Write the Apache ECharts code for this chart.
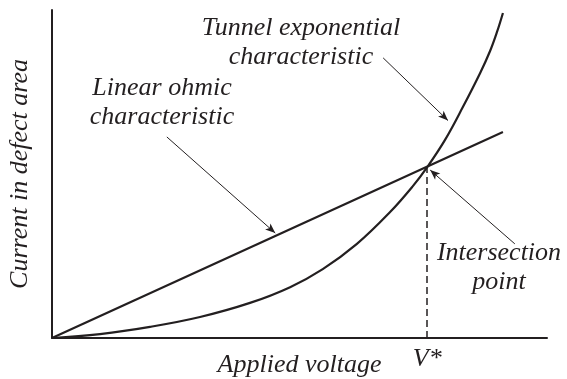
<!DOCTYPE html>
<html>
<head>
<meta charset="utf-8">
<script src="https://cdn.jsdelivr.net/npm/echarts@6/dist/echarts.min.js"></script>
<style>
html, body { margin: 0; padding: 0; background: #fff; }
#chart { width: 567px; height: 379px; }
</style>
</head>
<body>
<div id="chart"></div>
<script>
// linear ohmic characteristic (straight line from origin)
var ohmicX = [0, 9.11];
var ohmicY = [0, 6.28];
// tunnel exponential characteristic
var tunnelX = [0, 0.97, 1.98, 2.99, 4.00, 4.81, 5.47, 6.16, 6.83, 7.29, 7.58, 7.94, 8.30, 8.65, 8.85, 8.99, 9.11];
var tunnelY = [0, 0.12, 0.34, 0.64, 1.07, 1.55, 2.10, 2.87, 3.84, 4.63, 5.21, 6.04, 7.04, 8.08, 8.75, 9.33, 9.91];
// intersection point
var vStar = 7.58;
var iStar = 5.21;

var ink = '#231f20';
var serif = '"Liberation Serif", "DejaVu Serif", serif';

function pairs(xs, ys) {
    return xs.map(function (x, i) { return [x, ys[i]]; });
}

function arrow(from, to) {
    return [{ coord: from }, { coord: to }];
}

function chart01(id) {
    var myChart = echarts.init(document.getElementById(id));
    var textStyle = {
        fontFamily: serif,
        fontStyle: 'italic',
        fontSize: 26,
        color: ink
    };
    var option = {
        animation: false,
        grid: {
            left: 52,
            right: 20,
            top: 10,
            bottom: 41,
            outerBoundsMode: 'none'
        },
        xAxis: {
            type: 'value',
            min: 0,
            max: 10,
            name: 'Applied voltage',
            nameLocation: 'middle',
            nameGap: 14,
            nameTextStyle: textStyle,
            axisLine: { show: true, lineStyle: { color: ink, width: 2 } },
            axisTick: { show: false },
            axisLabel: { show: false },
            splitLine: { show: false }
        },
        yAxis: {
            type: 'value',
            min: 0,
            max: 10,
            name: 'Current in defect area',
            nameLocation: 'middle',
            nameGap: 19,
            nameTextStyle: textStyle,
            axisLine: { show: true, lineStyle: { color: ink, width: 2 } },
            axisTick: { show: false },
            axisLabel: { show: false },
            splitLine: { show: false }
        },
        series: [
            {
                name: 'Linear ohmic characteristic',
                type: 'line',
                showSymbol: false,
                silent: true,
                lineStyle: { color: ink, width: 2.2 },
                data: pairs(ohmicX, ohmicY),
                markLine: {
                    silent: true,
                    symbol: ['none', 'arrow'],
                    symbolSize: [6, 10],
                    label: { show: false },
                    lineStyle: { color: ink, width: 1, type: 'solid' },
                    data: [
                        arrow([6.69, 8.54], [8.0, 6.63]),
                        arrow([2.32, 6.13], [4.51, 3.20]),
                        arrow([9.35, 2.87], [7.64, 5.12])
                    ]
                }
            },
            {
                name: 'Tunnel exponential characteristic',
                type: 'line',
                showSymbol: false,
                silent: true,
                smooth: 0.4,
                lineStyle: { color: ink, width: 2.2 },
                data: pairs(tunnelX, tunnelY),
                markLine: {
                    silent: true,
                    symbol: ['none', 'none'],
                    lineStyle: { color: ink, width: 1.5, type: [7, 4] },
                    label: {
                        show: true,
                        position: 'start',
                        distance: 8,
                        formatter: 'V*',
                        fontFamily: serif,
                        fontStyle: 'italic',
                        fontSize: 26,
                        color: ink
                    },
                    data: [arrow([vStar, 0], [vStar, iStar])]
                }
            }
        ],
        graphic: [
            {
                type: 'text', x: 301, y: 43,
                style: { text: 'Tunnel exponential\ncharacteristic', fill: ink, font: 'italic 26px ' + serif, align: 'center', verticalAlign: 'middle', lineHeight: 29 }
            },
            {
                type: 'text', x: 162, y: 103,
                style: { text: 'Linear ohmic\ncharacteristic', fill: ink, font: 'italic 26px ' + serif, align: 'center', verticalAlign: 'middle', lineHeight: 29 }
            },
            {
                type: 'text', x: 499, y: 268,
                style: { text: 'Intersection\npoint', fill: ink, font: 'italic 26px ' + serif, align: 'center', verticalAlign: 'middle', lineHeight: 29 }
            }
        ]
    };

    myChart.setOption(option);
    return myChart;
}

var chartInit01 = chart01('chart');
window.addEventListener('resize', function () {
    chartInit01.resize();
});
</script>
</body>
</html>
